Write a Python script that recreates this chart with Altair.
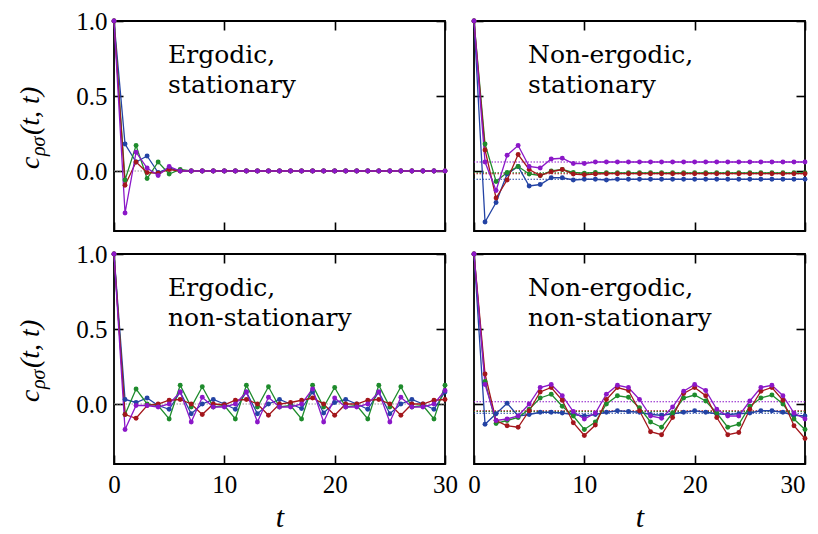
import altair as alt
import pandas as pd

T = list(range(31))

SERIES = ["1-blue", "2-green", "3-red", "4-purple"]
COLORS = ["#2343a4", "#1e8b2c", "#a3161b", "#8b17c8"]
REF_SERIES = "0-gray"
REF_COLOR = "#9a9a9a"

# Ergodic, stationary
ES_BLUE = [1.0, 0.18, 0.06, 0.10, -0.01, 0.02, 0.0, 0.0, 0.0, 0.0, 0.0,
           0.0, 0.0, 0.0, 0.0, 0.0, 0.0, 0.0, 0.0, 0.0, 0.0,
           0.0, 0.0, 0.0, 0.0, 0.0, 0.0, 0.0, 0.0, 0.0, 0.0]
ES_GREEN = [1.0, -0.06, 0.17, -0.05, 0.06, -0.02, 0.01, 0.0, 0.0, 0.0, 0.0,
            0.0, 0.0, 0.0, 0.0, 0.0, 0.0, 0.0, 0.0, 0.0, 0.0,
            0.0, 0.0, 0.0, 0.0, 0.0, 0.0, 0.0, 0.0, 0.0, 0.0]
ES_RED = [1.0, -0.095, 0.06, -0.01, -0.015, 0.01, 0.0, 0.0, 0.0, 0.0, 0.0,
          0.0, 0.0, 0.0, 0.0, 0.0, 0.0, 0.0, 0.0, 0.0, 0.0,
          0.0, 0.0, 0.0, 0.0, 0.0, 0.0, 0.0, 0.0, 0.0, 0.0]
ES_PURPLE = [1.0, -0.28, 0.125, 0.02, -0.03, 0.03, 0.0, 0.0, 0.0, 0.0, 0.0,
             0.0, 0.0, 0.0, 0.0, 0.0, 0.0, 0.0, 0.0, 0.0, 0.0,
             0.0, 0.0, 0.0, 0.0, 0.0, 0.0, 0.0, 0.0, 0.0, 0.0]

# Non-ergodic, stationary
NS_BLUE = [1.0, -0.34, -0.21, -0.02, 0.03, -0.10, -0.09, -0.045, -0.045, -0.06, -0.055,
           -0.055, -0.06, -0.055, -0.055, -0.055, -0.055, -0.055, -0.055, -0.055, -0.055,
           -0.055, -0.055, -0.055, -0.055, -0.055, -0.055, -0.055, -0.055, -0.055, -0.055]
NS_GREEN = [1.0, 0.18, -0.07, -0.01, 0.03, -0.02, -0.03, 0.0, 0.01, -0.01, -0.015,
            -0.01, -0.012, -0.012, -0.012, -0.012, -0.012, -0.012, -0.012, -0.012, -0.012,
            -0.012, -0.012, -0.012, -0.012, -0.012, -0.012, -0.012, -0.012, -0.012, -0.012]
NS_RED = [1.0, 0.14, -0.18, -0.06, 0.11, 0.01, -0.03, -0.005, 0.01, -0.02, -0.025,
          -0.02, -0.018, -0.018, -0.018, -0.018, -0.018, -0.018, -0.018, -0.018, -0.018,
          -0.018, -0.018, -0.018, -0.018, -0.018, -0.018, -0.018, -0.018, -0.018, -0.018]
NS_PURPLE = [1.0, 0.06, -0.13, 0.105, 0.17, 0.03, 0.02, 0.08, 0.085, 0.05, 0.05,
             0.06, 0.06, 0.06, 0.06, 0.06, 0.06, 0.06, 0.06, 0.06, 0.06,
             0.06, 0.06, 0.06, 0.06, 0.06, 0.06, 0.06, 0.06, 0.06, 0.06]

# Ergodic, non-stationary
ENS_BLUE = [1.0, 0.03, 0.01, 0.04, -0.01, -0.035, 0.08, -0.065, 0.0, 0.03, 0.0,
            -0.035, 0.08, -0.065, 0.0, 0.03, 0.0, -0.03, 0.08, -0.06, 0.01,
            0.03, 0.0, -0.035, 0.08, -0.065, 0.0, 0.03, 0.0, -0.035, 0.08]
ENS_GREEN = [1.0, -0.07, 0.10, 0.0, -0.01, -0.10, 0.125, -0.02, 0.115, -0.02, -0.01,
             -0.10, 0.125, -0.02, 0.115, -0.02, -0.01, -0.10, 0.125, -0.02, 0.11,
             -0.02, -0.01, -0.10, 0.125, -0.02, 0.115, -0.02, -0.01, -0.10, 0.125]
ENS_RED = [1.0, -0.07, -0.095, -0.01, 0.0, 0.025, 0.03, 0.0, -0.07, 0.0, -0.005,
           0.025, 0.03, 0.0, -0.075, 0.0, 0.01, 0.025, 0.04, 0.0, -0.075,
           0.0, 0.0, 0.025, 0.03, 0.0, -0.075, 0.0, 0.0, 0.025, 0.03]
ENS_PURPLE = [1.0, -0.17, -0.01, -0.01, -0.02, 0.0, 0.08, -0.12, 0.045, -0.02, -0.02,
              0.0, 0.08, -0.12, 0.045, -0.02, -0.02, 0.0, 0.10, -0.12, 0.04,
              -0.02, -0.02, 0.0, 0.08, -0.12, 0.045, -0.02, -0.02, 0.0, 0.09]

# Non-ergodic, non-stationary
NNS_BLUE = [1.0, -0.135, -0.065, 0.005, -0.08, -0.07, -0.055, -0.055, -0.06, -0.07, -0.08,
            -0.07, -0.055, -0.045, -0.05, -0.055, -0.07, -0.075, -0.065, -0.055, -0.045,
            -0.055, -0.065, -0.07, -0.065, -0.06, -0.045, -0.045, -0.055, -0.075, -0.08]
NNS_GREEN = [1.0, 0.15, -0.13, -0.11, -0.09, -0.035, 0.04, 0.065, -0.015, -0.08, -0.17,
             -0.12, 0.0, 0.055, 0.045, -0.025, -0.12, -0.155, -0.06, 0.04, 0.06,
             0.02, -0.06, -0.155, -0.135, -0.015, 0.04, 0.06, 0.0, -0.10, -0.17]
NNS_RED = [1.0, 0.20, -0.11, -0.145, -0.155, -0.045, 0.08, 0.11, 0.025, -0.125, -0.21,
           -0.14, 0.03, 0.11, 0.09, -0.045, -0.185, -0.205, -0.09, 0.07, 0.11,
           0.055, -0.09, -0.205, -0.19, -0.035, 0.085, 0.11, 0.025, -0.145, -0.23]
NNS_PURPLE = [1.0, 0.13, -0.11, -0.10, -0.08, 0.0, 0.11, 0.13, 0.055, -0.05, -0.10,
              -0.06, 0.065, 0.125, 0.11, 0.03, -0.08, -0.095, -0.02, 0.085, 0.13,
              0.09, -0.035, -0.08, -0.08, 0.02, 0.11, 0.125, 0.055, -0.06, -0.10]

# dotted reference levels
ES_REF = [0.0]
ENS_REF = [0.0]
NS_REF = [-0.055, -0.012, -0.018, 0.06]
NNS_REF = [-0.062, -0.05, -0.045, 0.015]

PANEL_TITLES = {
    "es": ["Ergodic,", "stationary"],
    "ns": ["Non-ergodic,", "stationary"],
    "ens": ["Ergodic,", "non-stationary"],
    "nns": ["Non-ergodic,", "non-stationary"],
}
X_TICKS = [0, 10, 20, 30]
Y_TICKS = [0.0, 0.5, 1.0]

series_lists = {
    "es": [ES_BLUE, ES_GREEN, ES_RED, ES_PURPLE],
    "ns": [NS_BLUE, NS_GREEN, NS_RED, NS_PURPLE],
    "ens": [ENS_BLUE, ENS_GREEN, ENS_RED, ENS_PURPLE],
    "nns": [NNS_BLUE, NNS_GREEN, NNS_RED, NNS_PURPLE],
}
ref_lists = {
    "es": ([REF_SERIES], ES_REF),
    "ens": ([REF_SERIES], ENS_REF),
    "ns": (SERIES, NS_REF),
    "nns": (SERIES, NNS_REF),
}

rows = []
for key, lists in series_lists.items():
    for s, vals in zip(SERIES, lists):
        for t, v in zip(T, vals):
            rows.append({"panel": key, "series": s, "t": t, "value": v})
data = pd.DataFrame(rows)

ref_rows = []
for key, (names, levels) in ref_lists.items():
    for s, lv in zip(names, levels):
        ref_rows.append({"panel": key, "series": s, "level": lv})
refs = pd.DataFrame(ref_rows)

W, H = 331, 210
TXT_FONT = "Liberation Serif"
TITLE_FONT = "DejaVu Serif"
one = pd.DataFrame({"k": [0]})


def make_panel(key, row, col):
    d = data[data.panel == key]
    r = refs[refs.panel == key]
    bottom = row == 1
    left = col == 0
    xs = alt.Scale(domain=[0, 30], nice=False, zero=False)
    ys = alt.Scale(domain=[-0.4, 1.0], nice=False, zero=False)
    color = alt.Color(
        "series:N",
        scale=alt.Scale(domain=[REF_SERIES] + SERIES, range=[REF_COLOR] + COLORS),
        legend=None,
    )
    common = dict(tickSize=9, offset=-9, domain=False, grid=False, labelFlush=False,
                  tickColor="black", tickWidth=1.6)
    xb = dict(orient="bottom", values=X_TICKS, labels=bottom, labelPadding=8,
              title="t" if bottom else None, titlePadding=5, **common)
    if bottom and not left:
        xb["labelAlign"] = {"condition": {"test": "datum.value == 30", "value": "right"},
                            "value": "center"}
    yl = dict(orient="left", values=Y_TICKS, labels=left, labelPadding=7,
              format=".1f", title=None, **common)
    xt = dict(orient="top", values=X_TICKS, labels=False, title=None, **common)
    yr = dict(orient="right", values=Y_TICKS, labels=False, title=None, **common)

    rules = alt.Chart(r).mark_rule(strokeDash=[1.5, 1.5], strokeWidth=1.1).encode(
        y=alt.Y("level:Q", scale=ys, axis=None), color=color
    )
    lines = alt.Chart(d).mark_line(strokeWidth=1.3).encode(
        x=alt.X("t:Q", scale=xs, axis=alt.Axis(**xb)),
        y=alt.Y("value:Q", scale=ys, axis=alt.Axis(**yl)),
        color=color,
    )
    points = alt.Chart(d).mark_circle(size=24, opacity=1).encode(
        x=alt.X("t:Q", scale=xs, axis=alt.Axis(**xt)),
        y=alt.Y("value:Q", scale=ys, axis=alt.Axis(**yr)),
        color=color,
    )
    title = alt.Chart(one).mark_text(
        text=PANEL_TITLES[key], align="left", baseline="alphabetic",
        font=TITLE_FONT, fontSize=25, lineHeight=30, color="black",
    ).encode(x=alt.value(54), y=alt.value(42))
    layers = [rules, lines, points, title]
    if left:
        lab_c = alt.Chart(one).mark_text(
            text="c", align="left", baseline="alphabetic", angle=270,
            font=TXT_FONT, fontSize=28, fontStyle="italic", color="black",
        ).encode(x=alt.value(-75), y=alt.value(148))
        lab_sub = alt.Chart(one).mark_text(
            text="ρσ", align="left", baseline="alphabetic", angle=270,
            font=TXT_FONT, fontSize=20, fontStyle="italic", color="black",
        ).encode(x=alt.value(-69), y=alt.value(135))
        lab_arg = alt.Chart(one).mark_text(
            text="(t, t)", align="left", baseline="alphabetic", angle=270,
            font=TXT_FONT, fontSize=28, fontStyle="italic", color="black",
        ).encode(x=alt.value(-75), y=alt.value(114))
        layers += [lab_c, lab_sub, lab_arg]
    return alt.layer(*layers).resolve_axis(x="independent", y="independent").properties(
        width=W, height=H
    )


chart = (
    alt.concat(
        make_panel("es", 0, 0), make_panel("ns", 0, 1),
        make_panel("ens", 1, 0), make_panel("nns", 1, 1),
        columns=2, spacing={"row": 23, "column": 29}, bounds="flush",
    )
    .properties(padding={"left": 8, "top": 0, "right": 0, "bottom": 0}, background="white")
    .configure_view(stroke="black", strokeWidth=1.8)
    .configure_axis(
        labelFont=TXT_FONT, labelFontSize=25, labelColor="black",
        titleFont=TXT_FONT, titleFontSize=30, titleFontStyle="italic",
        titleFontWeight="normal", titleColor="black",
    )
)

chart.save("out.html", embed_options={"renderer": "svg", "actions": False})
